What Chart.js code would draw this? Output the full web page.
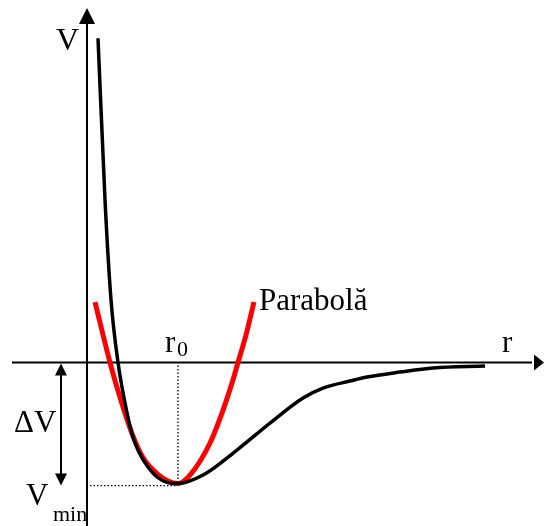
<!DOCTYPE html>
<html>
<head>
<meta charset="utf-8">
<script src="https://cdn.jsdelivr.net/npm/chart.js"></script>
<style>
  html, body { margin:0; padding:0; background:#fff; }
  canvas { display:block; }
</style>
</head>
<body>
<canvas id="c" width="544" height="526"></canvas>
<script>
// potential curve V(r): r in units of r0, V in units of |Vmin|
const potR = [0.121, 0.198, 0.264, 0.341, 0.440, 0.505, 0.577, 0.670, 0.769, 0.879, 1.0, 1.275, 1.648, 2.011, 2.374, 2.593, 2.890, 3.077, 3.440, 3.802, 4.374];
const potV = [2.68, 1.343, 0.517, 0.0, -0.417, -0.616, -0.748, -0.864, -0.946, -0.99, -1.0, -0.930, -0.723, -0.500, -0.293, -0.211, -0.153, -0.120, -0.079, -0.045, -0.029];

// harmonic approximation around r0
const parR = [0.088, 0.253, 0.363, 0.495, 0.615, 0.769, 0.890, 1.0, 1.132, 1.352, 1.495, 1.604, 1.659, 1.747, 1.835];
const parV = [0.50, 0.0, -0.289, -0.587, -0.785, -0.917, -0.98, -1.0, -0.93, -0.665, -0.393, -0.145, 0.0, 0.227, 0.50];

const r0 = 1, vMin = -1;
const labelV = 'V', labelR = 'r', labelPar = 'Parabolă', labelDV = 'ΔV';

const pts = (xs, ys) => xs.map((x,i)=>({x, y: ys[i]}));
const SERIF = '"Liberation Serif", "Times New Roman", serif';

function line(ctx, x1, y1, x2, y2){
  ctx.beginPath(); ctx.moveTo(x1,y1); ctx.lineTo(x2,y2); ctx.stroke();
}
function head(ctx, tx, ty, dx, dy, len, half){
  // triangle with tip at (tx,ty) pointing along (dx,dy)
  const bx = tx - dx*len, by = ty - dy*len;
  ctx.beginPath();
  ctx.moveTo(tx,ty);
  ctx.lineTo(bx - dy*half, by + dx*half);
  ctx.lineTo(bx + dy*half, by - dx*half);
  ctx.closePath(); ctx.fill();
}

const decor = {
  id:'decor',
  beforeDatasetsDraw(chart){
    const {ctx, scales:{x,y}} = chart;
    const ox = x.getPixelForValue(0), oy = y.getPixelForValue(0);
    const px0 = x.getPixelForValue(r0), pyMin = y.getPixelForValue(vMin);
    ctx.save();
    ctx.strokeStyle = '#000'; ctx.fillStyle = '#000';
    ctx.lineWidth = 2;
    // axes
    line(ctx, ox, 526, ox, 20);
    head(ctx, ox, 8, 0, -1, 16, 8);
    line(ctx, 12, oy, 532, oy);
    head(ctx, 544, oy, 1, 0, 10, 8);
    // delta V double arrow
    line(ctx, 61, oy+10, 61, pyMin-8);
    head(ctx, 61, oy+1, 0, -1, 12, 6);
    head(ctx, 61, pyMin+2, 0, 1, 12, 6);
    // dotted guides
    ctx.lineWidth = 1.3;
    ctx.setLineDash([1.5, 2]);
    line(ctx, px0, oy+3, px0, pyMin);
    line(ctx, ox+3, pyMin+2, px0, pyMin+2);
    ctx.restore();
  },
  afterDraw(chart){
    const {ctx} = chart;
    ctx.save();
    ctx.fillStyle = '#000';
    ctx.textBaseline = 'alphabetic';
    ctx.font = '32px ' + SERIF;
    ctx.fillText(labelV, 56, 50);
    ctx.font = '31px ' + SERIF;
    ctx.fillText(labelR, 502, 352);
    ctx.fillText('r', 165, 352);
    ctx.fillText(labelPar, 259, 310);
    ctx.fillText(labelDV, 14, 432);
    ctx.fillText('V', 26, 505);
    ctx.font = '22px ' + SERIF;
    ctx.fillText('0', 177, 356);
    ctx.fillText('min', 53, 521);
    ctx.restore();
  }
};

new Chart(document.getElementById('c'), {
  type: 'scatter',
  data: {
    datasets: [
      {data: pts(potR, potV), showLine:true, borderColor:'#000', borderWidth:3.5, pointRadius:0, cubicInterpolationMode:'monotone', order:1},
      {data: pts(parR, parV), showLine:true, borderColor:'#ff0000', borderWidth:5, pointRadius:0, cubicInterpolationMode:'monotone', order:2}
    ]
  },
  options: {
    responsive:false, animation:false, devicePixelRatio:1,
    layout:{padding:0},
    plugins:{legend:{display:false}, tooltip:{enabled:false}},
    scales:{
      x:{type:'linear', min:-0.956, max:5.022, display:false},
      y:{type:'linear', min:-1.351, max:2.996, display:false}
    }
  },
  plugins:[decor]
});
</script>
</body>
</html>
